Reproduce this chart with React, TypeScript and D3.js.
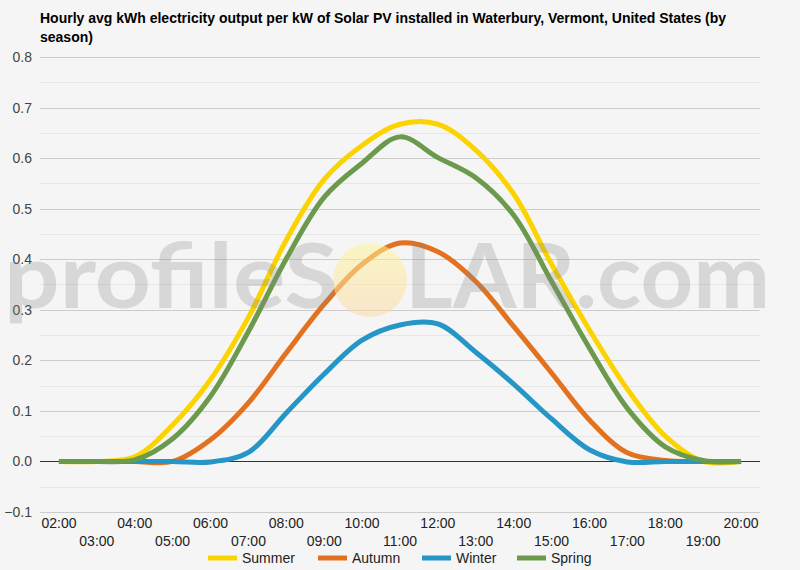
import * as d3 from 'd3';
import React, { useRef, useEffect } from 'react';

const hours = ["02:00", "03:00", "04:00", "05:00", "06:00", "07:00", "08:00", "09:00", "10:00",
  "11:00", "12:00", "13:00", "14:00", "15:00", "16:00", "17:00", "18:00", "19:00", "20:00"];

const summer = [0, 0, 0.009, 0.072, 0.162, 0.285, 0.438, 0.558, 0.625, 0.667, 0.667, 0.616, 0.529, 0.390, 0.260, 0.143, 0.050, 0.0, 0];
const autumn = [0, 0, 0, 0.0, 0.043, 0.116, 0.215, 0.311, 0.390, 0.432, 0.415, 0.356, 0.267, 0.175, 0.082, 0.017, 0.002, 0, 0];
const winter = [0, 0, 0, 0, -0.001, 0.018, 0.096, 0.173, 0.240, 0.270, 0.272, 0.216, 0.153, 0.084, 0.023, -0.001, 0, 0, 0];
const spring = [0, 0, 0.003, 0.045, 0.129, 0.257, 0.401, 0.523, 0.590, 0.642, 0.601, 0.561, 0.487, 0.356, 0.224, 0.105, 0.029, 0.002, 0];

const seriesNames = ["Summer", "Autumn", "Winter", "Spring"];
const seriesColors = ["#fbd400", "#e2721f", "#2596c6", "#6b9a4c"];
const yTicks = [-0.1, 0, 0.1, 0.2, 0.3, 0.4, 0.5, 0.6, 0.7, 0.8];

const width = 800;
const height = 570;
const margin = { top: 57, right: 40, bottom: 58, left: 40 };

function SolarChart(): any {
  const ref = useRef(null);

  useEffect(() => {
    const svg = d3.select(ref.current);
    svg.selectAll("*").remove();
    const font = "Arial, 'Liberation Sans', sans-serif";

    svg.append("rect")
      .attr("width", width).attr("height", height)
      .attr("fill", "#f5f5f5");

    const x = d3.scaleBand()
      .domain(hours)
      .range([margin.left, width - margin.right]);

    const y = d3.scaleLinear()
      .domain([-0.1, 0.8])
      .range([height - margin.bottom, margin.top]);

    const cx = (h: string) => (x(h) as number) + x.bandwidth() / 2;

    // minor gridlines
    const minor = d3.range(-0.05, 0.8, 0.1);
    svg.append("g").selectAll("line").data(minor).join("line")
      .attr("x1", margin.left).attr("x2", width - margin.right)
      .attr("y1", (d: number) => Math.round(y(d)) + 0.5)
      .attr("y2", (d: number) => Math.round(y(d)) + 0.5)
      .attr("stroke", "#e6e6e6");

    // major gridlines
    svg.append("g").selectAll("line").data(yTicks).join("line")
      .attr("x1", margin.left).attr("x2", width - margin.right)
      .attr("y1", (d: number) => Math.round(y(d)) + 0.5)
      .attr("y2", (d: number) => Math.round(y(d)) + 0.5)
      .attr("stroke", (d: number) => d === 0 ? "#333" : "#cccccc");

    // y labels
    svg.append("g").selectAll("text").data(yTicks).join("text")
      .attr("x", 32)
      .attr("y", (d: number) => y(d) + 5)
      .attr("text-anchor", "end")
      .attr("font-family", font)
      .attr("font-size", 14)
      .attr("fill", "#444")
      .text((d: number) => d3.format(".1f")(d));

    // x labels, two alternating rows
    svg.append("g").selectAll("text").data(hours).join("text")
      .attr("x", (d: string) => cx(d))
      .attr("y", (_: string, i: number) => i % 2 === 0 ? 528 : 546)
      .attr("text-anchor", "middle")
      .attr("font-family", font)
      .attr("font-size", 14)
      .attr("fill", "#222")
      .text((d: string) => d);

    // lines
    const line = d3.line<number>()
      .x((_: number, i: number) => cx(hours[i]))
      .y((d: number) => y(d))
      .curve(d3.curveCatmullRom.alpha(0.5));

    [summer, autumn, winter, spring].forEach((s, i) => {
      svg.append("path")
        .attr("d", line(s) as string)
        .attr("fill", "none")
        .attr("stroke", seriesColors[i])
        .attr("stroke-width", 5)
        .attr("stroke-linejoin", "round");
    });

    // watermark
    const grad = svg.append("defs").append("linearGradient")
      .attr("id", "sun").attr("x1", 0).attr("y1", 0).attr("x2", 0).attr("y2", 1);
    grad.append("stop").attr("offset", "0%").attr("stop-color", "#fff59a");
    grad.append("stop").attr("offset", "100%").attr("stop-color", "#fbd9a8");
    svg.append("circle")
      .attr("cx", 370).attr("cy", 280).attr("r", 37)
      .attr("fill", "url(#sun)").attr("opacity", 0.55);
    const wm = svg.append("g").attr("opacity", 0.27);
    wm.append("text")
      .attr("x", 4).attr("y", 308)
      .attr("font-family", "Lato, sans-serif")
      .attr("font-weight", "bold")
      .attr("font-size", 90)
      .attr("fill", "#8a8a8a")
      .attr("textLength", 334)
      .attr("lengthAdjust", "spacingAndGlyphs")
      .text("profileS");
    wm.append("text")
      .attr("x", 405).attr("y", 308)
      .attr("font-family", "Lato, sans-serif")
      .attr("font-weight", "bold")
      .attr("font-size", 90)
      .attr("fill", "#8a8a8a")
      .attr("textLength", 365)
      .attr("lengthAdjust", "spacingAndGlyphs")
      .text("LAR.com");

    // title
    const title = svg.append("text")
      .attr("font-family", font)
      .attr("font-size", 14)
      .attr("font-weight", "bold")
      .attr("fill", "#000");
    title.append("tspan").attr("x", 40).attr("y", 23)
      .text("Hourly avg kWh electricity output per kW of Solar PV installed in Waterbury, Vermont, United States (by");
    title.append("tspan").attr("x", 40).attr("y", 42).text("season)");

    // legend
    const legendX = [208, 318, 422, 517];
    const lg = svg.append("g").selectAll("g").data(seriesNames).join("g")
      .attr("transform", (_: string, i: number) => `translate(${legendX[i]},558)`);
    lg.append("line")
      .attr("x1", 0).attr("x2", 29).attr("y1", 0).attr("y2", 0)
      .attr("stroke", (_: string, i: number) => seriesColors[i])
      .attr("stroke-width", 5);
    lg.append("text")
      .attr("x", 34).attr("y", 5)
      .attr("font-family", font)
      .attr("font-size", 14)
      .attr("fill", "#222")
      .text((d: string) => d);
  }, []);

  return <svg ref={ref} width={width} height={height} />;
}

export default function App(): any {
  return (
    <div style={{ position: "absolute", left: 0, top: 0, width: width, height: height }}>
      <SolarChart />
    </div>
  );
}
